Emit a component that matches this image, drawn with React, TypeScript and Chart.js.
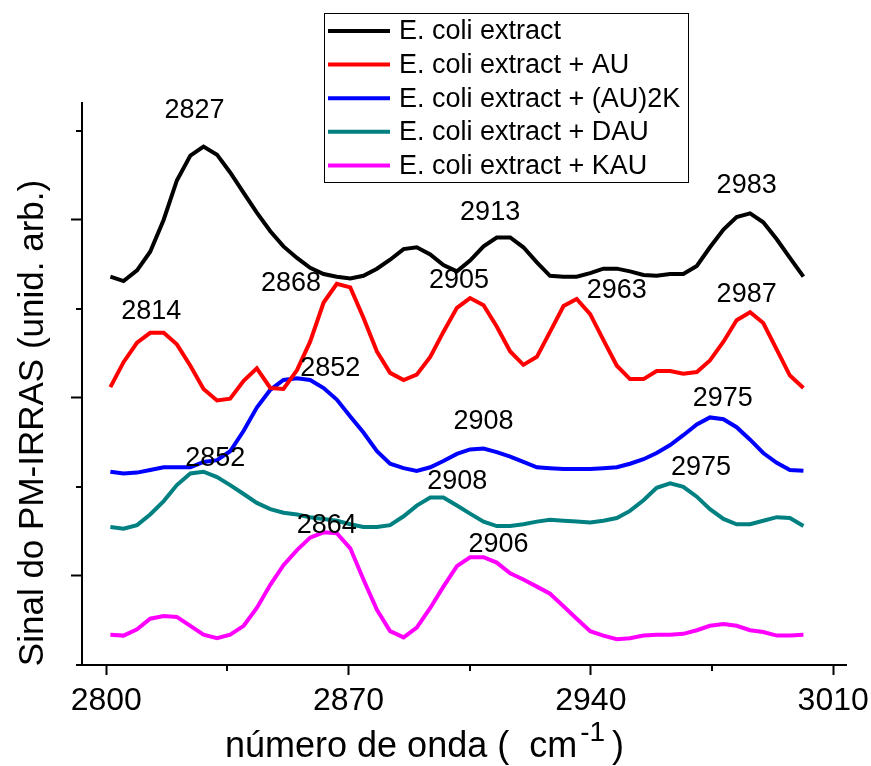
import React, { useEffect, useRef } from "react";
import { Chart, registerables } from "chart.js";

Chart.register(...registerables);

const FONT = "'Liberation Sans', Arial, Helvetica, sans-serif";

// Wavenumbers (cm^-1)
const WAVENUMBERS = [
  2801.2, 2805.0, 2808.9, 2812.7, 2816.6, 2820.4, 2824.3, 2828.1, 2832.0, 2835.8,
  2839.7, 2843.5, 2847.4, 2851.2, 2855.1, 2858.9, 2862.8, 2866.6, 2870.5, 2874.3,
  2878.2, 2882.0, 2885.9, 2889.7, 2893.6, 2897.4, 2901.3, 2905.1, 2909.0, 2912.8,
  2916.7, 2920.5, 2924.4, 2928.2, 2932.1, 2935.9, 2939.8, 2943.6, 2947.5, 2951.3,
  2955.2, 2959.0, 2962.9, 2966.7, 2970.6, 2974.4, 2978.3, 2982.1, 2986.0, 2989.8,
  2993.7, 2997.5, 3001.4,
];

const ECOLI = [
  4.36, 4.31, 4.43, 4.64, 5.0, 5.44, 5.72, 5.82, 5.73, 5.53,
  5.3, 5.08, 4.87, 4.7, 4.57, 4.46, 4.39, 4.36, 4.34, 4.37,
  4.45, 4.55, 4.67, 4.69, 4.61, 4.49, 4.42, 4.54, 4.7, 4.8,
  4.8, 4.69, 4.52, 4.37, 4.36, 4.36, 4.4, 4.45, 4.45, 4.42,
  4.38, 4.37, 4.39, 4.39, 4.48, 4.69, 4.89, 5.03, 5.07, 4.97,
  4.78, 4.57, 4.36,
];

const ECOLI_AU = [
  3.12, 3.4, 3.62, 3.73, 3.73, 3.6, 3.36, 3.1, 2.97, 2.99,
  3.19, 3.33, 3.11, 3.1, 3.31, 3.63, 4.07, 4.28, 4.24, 3.9,
  3.52, 3.28, 3.2, 3.26, 3.46, 3.74, 4.01, 4.12, 4.04, 3.8,
  3.52, 3.37, 3.46, 3.74, 4.03, 4.11, 3.94, 3.65, 3.36, 3.21,
  3.21, 3.3, 3.3, 3.27, 3.29, 3.42, 3.63, 3.87, 3.96, 3.84,
  3.54, 3.25, 3.11,
];

const ECOLI_AU2K = [
  2.17, 2.15, 2.16, 2.19, 2.22, 2.22, 2.22, 2.28, 2.3, 2.4,
  2.63, 2.89, 3.09, 3.2, 3.22, 3.2, 3.11, 2.98, 2.79, 2.61,
  2.4, 2.26, 2.21, 2.18, 2.22, 2.29, 2.37, 2.42, 2.43, 2.39,
  2.34, 2.28, 2.22, 2.21, 2.2, 2.2, 2.2, 2.21, 2.22, 2.26,
  2.31, 2.38, 2.47, 2.58, 2.7, 2.78, 2.76, 2.67, 2.53, 2.38,
  2.27, 2.19, 2.18,
];

const ECOLI_DAU = [
  1.55, 1.53, 1.57, 1.69, 1.84, 2.02, 2.15, 2.17, 2.11, 2.02,
  1.92, 1.82, 1.75, 1.71, 1.69, 1.66, 1.64, 1.62, 1.58, 1.55,
  1.55, 1.57, 1.67, 1.79, 1.88, 1.88, 1.79, 1.7, 1.61, 1.56,
  1.56, 1.58, 1.61, 1.63, 1.62, 1.61, 1.6, 1.62, 1.65, 1.73,
  1.85, 1.99, 2.04, 2.0, 1.89, 1.75, 1.64, 1.58, 1.58, 1.62,
  1.66, 1.65, 1.56,
];

const ECOLI_KAU = [
  0.34, 0.33, 0.4, 0.52, 0.55, 0.54, 0.44, 0.34, 0.3, 0.34,
  0.44, 0.64, 0.9, 1.12, 1.29, 1.43, 1.49, 1.48, 1.31, 0.96,
  0.62, 0.38, 0.31, 0.42, 0.64, 0.88, 1.11, 1.21, 1.21, 1.15,
  1.03, 0.96, 0.88, 0.8, 0.66, 0.52, 0.38, 0.33, 0.29, 0.3,
  0.33, 0.34, 0.34, 0.35, 0.39, 0.44, 0.46, 0.44, 0.39, 0.37,
  0.33, 0.33, 0.34,
];

const SERIES_LABELS = [
  "E. coli extract",
  "E. coli extract + AU",
  "E. coli extract + (AU)2K",
  "E. coli extract + DAU",
  "E. coli extract + KAU",
];
const SERIES_COLORS = ["#000000", "#ff0000", "#0000ff", "#008080", "#ff00ff"];
const SERIES_VALUES = [ECOLI, ECOLI_AU, ECOLI_AU2K, ECOLI_DAU, ECOLI_KAU];

const X_MAJOR_TICKS = [2800, 2870, 2940, 3010];
const X_MINOR_TICKS = [2835, 2905, 2975];
const Y_MAJOR_TICKS = [1, 3, 5];
const Y_MINOR_TICKS = [0, 2, 4, 6];

// Peak annotations (text, wavenumber position, signal position)
const PEAK_TEXT = [
  "2827", "2814", "2868", "2913", "2905", "2963", "2983", "2987",
  "2852", "2908", "2975", "2852", "2908", "2975", "2864", "2906",
];
const PEAK_X = [
  2825.5, 2813.0, 2853.4, 2910.9, 2901.9, 2947.5, 2985.0, 2985.0,
  2864.7, 2909.0, 2978.1, 2831.5, 2901.4, 2971.8, 2863.7, 2913.3,
];
const PEAK_Y = [
  6.24, 3.98, 4.29, 5.09, 4.33, 4.22, 5.39, 4.17,
  3.34, 2.74, 3.0, 2.33, 2.07, 2.23, 1.58, 1.36,
];

const X_TITLE_MAIN = "número de onda (  cm";
const X_TITLE_SUP = "-1";
const X_TITLE_END = ")";
const Y_TITLE = "Sinal do PM-IRRAS (unid. arb.)";

const overlayPlugin = {
  id: "overlay",
  afterDraw(chart: any) {
    const ctx = chart.ctx as CanvasRenderingContext2D;
    const xs = chart.scales.x;
    const ys = chart.scales.y;
    ctx.save();

    // minor ticks
    ctx.strokeStyle = "#000";
    ctx.lineWidth = 2;
    X_MINOR_TICKS.forEach((v) => {
      const px = Math.round(xs.getPixelForValue(v));
      ctx.beginPath();
      ctx.moveTo(px, xs.top);
      ctx.lineTo(px, xs.top + 6);
      ctx.stroke();
    });
    Y_MINOR_TICKS.forEach((v) => {
      const py = Math.round(ys.getPixelForValue(v));
      ctx.beginPath();
      ctx.moveTo(ys.right, py);
      ctx.lineTo(ys.right - 6, py);
      ctx.stroke();
    });

    // peak labels
    ctx.fillStyle = "#000";
    ctx.font = `27px ${FONT}`;
    ctx.textAlign = "center";
    ctx.textBaseline = "middle";
    PEAK_TEXT.forEach((t, i) => {
      ctx.fillText(t, xs.getPixelForValue(PEAK_X[i]), ys.getPixelForValue(PEAK_Y[i]) + 1);
    });

    // legend
    const lx = 324, ly = 13, lw = 364, lh = 169;
    ctx.fillStyle = "#fff";
    ctx.fillRect(lx, ly, lw, lh);
    ctx.strokeStyle = "#000";
    ctx.lineWidth = 1;
    ctx.strokeRect(lx + 0.5, ly + 0.5, lw, lh);
    ctx.textAlign = "left";
    ctx.font = `27px ${FONT}`;
    chart.data.datasets.forEach((ds: any, i: number) => {
      const ry = 31 + i * 33.6;
      ctx.strokeStyle = ds.borderColor;
      ctx.lineWidth = 4;
      ctx.beginPath();
      ctx.moveTo(328, ry);
      ctx.lineTo(390, ry);
      ctx.stroke();
      ctx.fillStyle = "#000";
      ctx.fillText(ds.label, 399, ry + 1);
    });

    // x title
    ctx.fillStyle = "#000";
    ctx.textBaseline = "alphabetic";
    ctx.textAlign = "left";
    ctx.font = `36px ${FONT}`;
    const tx = 225, tyBase = 757;
    ctx.fillText(X_TITLE_MAIN, tx, tyBase);
    const w1 = ctx.measureText(X_TITLE_MAIN).width;
    ctx.font = `28px ${FONT}`;
    ctx.fillText(X_TITLE_SUP, tx + w1 + 3, tyBase - 16);
    const w2 = ctx.measureText(X_TITLE_SUP).width;
    ctx.font = `36px ${FONT}`;
    ctx.fillText(X_TITLE_END, tx + w1 + w2 + 10, tyBase);

    // y title
    ctx.translate(43, 423);
    ctx.rotate(-Math.PI / 2);
    ctx.textAlign = "center";
    ctx.font = `35px ${FONT}`;
    ctx.fillText(Y_TITLE, 0, 0);

    ctx.restore();
  },
};

export default function App() {
  const canvasRef = useRef<HTMLCanvasElement | null>(null);

  useEffect(() => {
    if (!canvasRef.current) return;
    const datasets = SERIES_VALUES.map((vals, si) => ({
      label: SERIES_LABELS[si],
      data: vals.map((y, i) => ({ x: WAVENUMBERS[i], y })),
      borderColor: SERIES_COLORS[si],
      backgroundColor: SERIES_COLORS[si],
      borderWidth: 4,
      pointRadius: 0,
      tension: 0,
      fill: false,
    }));
    const chart = new Chart(canvasRef.current, {
      type: "line",
      data: { datasets },
      options: {
        responsive: false,
        animation: false,
        devicePixelRatio: 1,
        layout: { padding: { left: 0, top: 103, right: 25, bottom: 0 } },
        plugins: {
          legend: { display: false },
          tooltip: { enabled: false },
          title: { display: false },
        },
        scales: {
          x: {
            type: "linear",
            min: 2793,
            max: 3013.7,
            afterBuildTicks: (s: any) => {
              s.ticks = X_MAJOR_TICKS.map((v) => ({ value: v }));
            },
            afterFit: (s: any) => {
              s.height = 101;
              s.paddingLeft = 0;
              s.paddingRight = 0;
            },
            grid: {
              display: true,
              drawOnChartArea: false,
              drawTicks: true,
              tickLength: 10,
              tickWidth: 2,
              tickColor: "#000",
            },
            border: { display: true, color: "#000", width: 2 },
            ticks: {
              color: "#000",
              font: { size: 32, family: FONT },
              padding: 7,
              maxRotation: 0,
              autoSkip: false,
              callback: (v: any) => String(v),
            },
          },
          y: {
            type: "linear",
            min: 0,
            max: 6.31,
            afterBuildTicks: (s: any) => {
              s.ticks = Y_MAJOR_TICKS.map((v) => ({ value: v }));
            },
            afterFit: (s: any) => {
              s.width = 82;
              s.paddingTop = 0;
              s.paddingBottom = 0;
            },
            grid: {
              display: true,
              drawOnChartArea: false,
              drawTicks: true,
              tickLength: 11,
              tickWidth: 2,
              tickColor: "#000",
            },
            border: { display: true, color: "#000", width: 2 },
            ticks: { display: false },
          },
        },
      } as any,
      plugins: [overlayPlugin],
    });
    return () => chart.destroy();
  }, []);

  return (
    <div style={{ position: "absolute", left: 0, top: 0, width: 871, height: 766, background: "#fff" }}>
      <canvas ref={canvasRef} width={871} height={766} style={{ display: "block" }} />
    </div>
  );
}
